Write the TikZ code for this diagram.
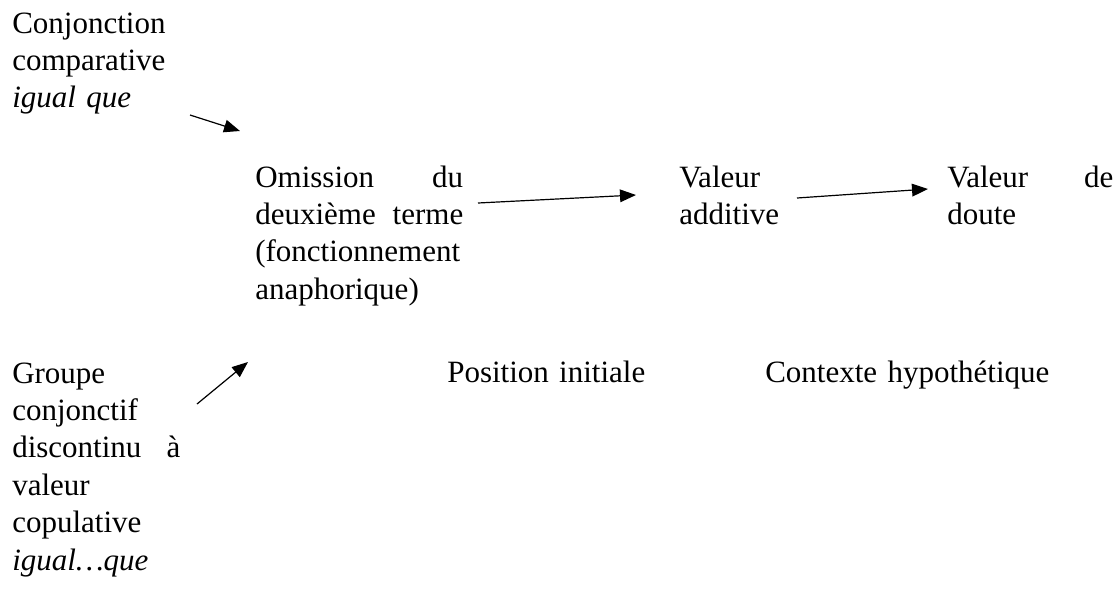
\documentclass[tikz,border=0pt]{standalone}
\usepackage{fontspec}
\setmainfont{Liberation Serif}
\usetikzlibrary{arrows.meta}
\tikzset{
  bloc/.style={anchor=base west, inner sep=0pt, align=left, text width=#1,
    font=\fontsize{23.25}{28.1}\selectfont},
  bloc/.default=126pt,
  fleche/.style={-{Triangle[length=12pt,width=9.5pt]}, line width=0.9pt}
}
\begin{document}
\begin{tikzpicture}[x=0.75pt,y=-0.75pt]
      \useasboundingbox (0,0) rectangle (1120,604);
      \draw
        (12,33) node[bloc] (conj){Conjonction\\comparative\\\textit{igual que}}
        (255,187) node[bloc=156pt] (omis){Omission\hfill du\\deuxième\hfill terme\\(fonctionnement\\anaphorique)}
        (679,187) node[bloc] (addv){Valeur\\additive}
        (947,187) node[bloc=124.5pt] (doute){Valeur\hfill de\\doute}
        (12,383) node[bloc] (grp){Groupe\\conjonctif\\discontinu\hfill à\\valeur\\copulative\\\textit{igual…que}}
        (447,382) node[bloc=200pt] (pos){Position initiale}
        (765,382) node[bloc=300pt] (ctx){Contexte hypothétique};
      \coordinate (c1) at (190,115);
      \coordinate (c2) at (240,131);
      \coordinate (o1) at (478,203);
      \coordinate (a1) at (636,195);
      \coordinate (a2) at (797,198);
      \coordinate (d1) at (928,189);
      \coordinate (g1) at (197,404);
      \coordinate (g2) at (248,362);
      \begin{scope}[fleche]
        \draw (c1) to (c2);
        \draw (o1) to (a1);
        \draw (a2) to (d1);
        \draw (g1) to (g2);
      \end{scope}
    \end{tikzpicture}
\end{document}
